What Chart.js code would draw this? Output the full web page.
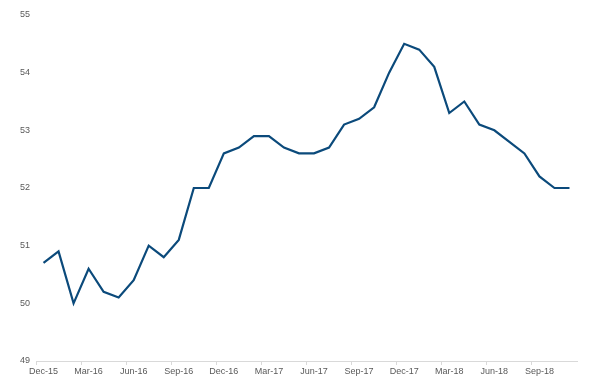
<!DOCTYPE html>
<html>
<head>
<meta charset="utf-8">
<script src="https://cdn.jsdelivr.net/npm/chart.js@4/dist/chart.umd.min.js"></script>
<style>
html,body{margin:0;padding:0;background:#fff;}
#wrap{width:600px;height:381px;position:relative;}
</style>
</head>
<body>
<div id="wrap"><canvas id="c" width="600" height="381"></canvas></div>
<script>
const months = ["Dec-15","Jan-16","Feb-16","Mar-16","Apr-16","May-16","Jun-16","Jul-16","Aug-16","Sep-16","Oct-16","Nov-16",
"Dec-16","Jan-17","Feb-17","Mar-17","Apr-17","May-17","Jun-17","Jul-17","Aug-17","Sep-17","Oct-17","Nov-17",
"Dec-17","Jan-18","Feb-18","Mar-18","Apr-18","May-18","Jun-18","Jul-18","Aug-18","Sep-18","Oct-18","Nov-18"];
const values = [50.7,50.9,50.0,50.6,50.2,50.1,50.4,51.0,50.8,51.1,52.0,52.0,
52.6,52.7,52.9,52.9,52.7,52.6,52.6,52.7,53.1,53.2,53.4,54.0,
54.5,54.4,54.1,53.3,53.5,53.1,53.0,52.8,52.6,52.2,52.0,52.0];
const yMin = 49, yMax = 55, yStep = 1;
const labelEvery = 3;

new Chart(document.getElementById('c'), {
  type: 'line',
  data: { labels: months, datasets: [{ data: values, borderColor: '#0b4a7b', borderWidth: 2.2, pointRadius: 0, tension: 0, fill: false }] },
  options: {
    responsive: false, animation: false,
    layout: { padding: { left: 0, right: 23, top: 15, bottom: 0 } },
    plugins: { legend: { display: false }, tooltip: { enabled: false } },
    scales: {
      x: {
        offset: true,
        grid: { offset: true, drawOnChartArea: false, drawTicks: true, tickLength: 4,
          color: ctx => (ctx.index % labelEvery === 0 ? '#d9d9d9' : 'rgba(0,0,0,0)') },
        border: { display: true, color: '#d9d9d9', width: 1 },
        ticks: { autoSkip: false, maxRotation: 0, padding: 1, color: '#595959',
          font: { family: 'Liberation Sans, Arial', size: 9 },
          callback: function(v, i) { return i % labelEvery === 0 ? months[i] : ''; } },
        afterFit: s => { s.height = 20; }
      },
      y: {
        min: yMin, max: yMax,
        grid: { display: false, drawTicks: false },
        border: { display: false },
        ticks: { stepSize: yStep, padding: 6, color: '#595959', font: { family: 'Liberation Sans, Arial', size: 9 } },
        afterFit: s => { s.width = 36; }
      }
    }
  }
});
</script>
</body>
</html>
